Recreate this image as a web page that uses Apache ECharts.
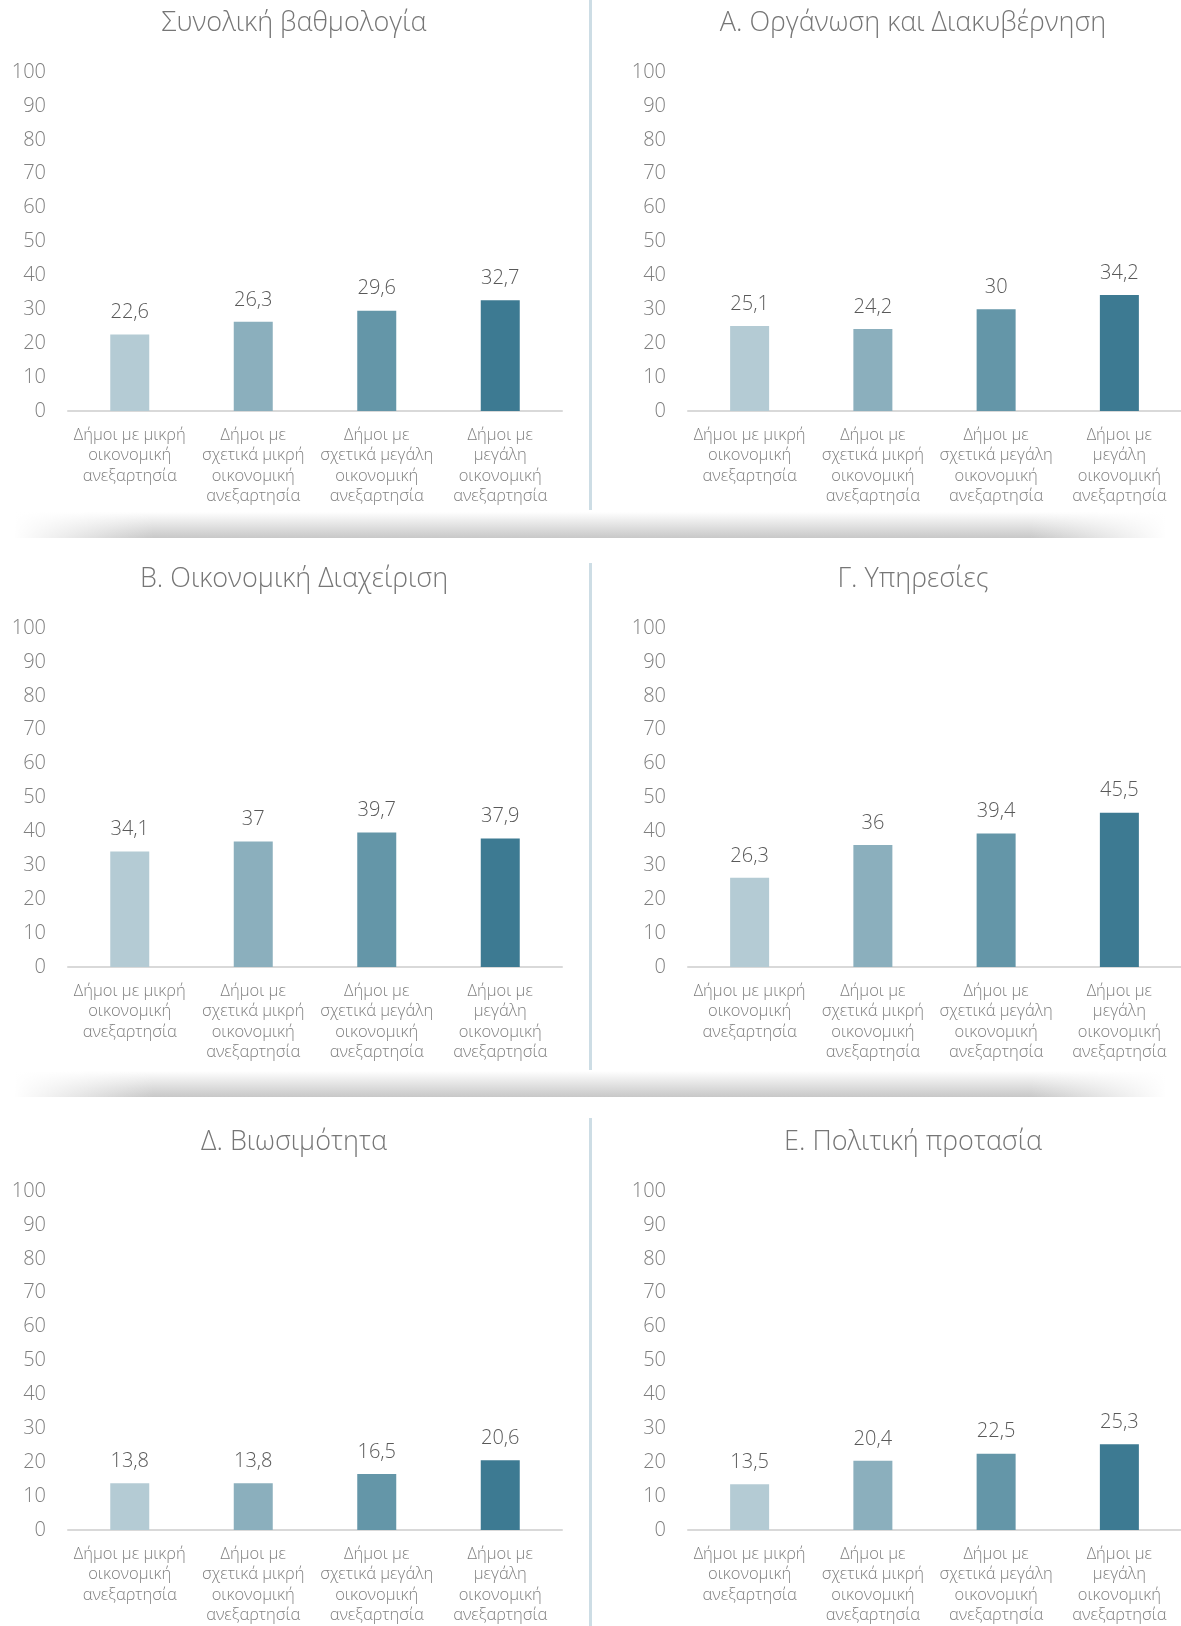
<!DOCTYPE html>
<html>
<head>
<meta charset="utf-8">
<script src="https://cdn.jsdelivr.net/npm/echarts@6/dist/echarts.min.js"></script>
<style>
html,body{margin:0;padding:0;background:#fff;}
#chart{width:1181px;height:1626px;}
</style>
</head>
<body>
<div id="chart"></div>
<script>
// ---- data ----
const categories = [
  'Δήμοι με μικρή\nοικονομική\nανεξαρτησία',
  'Δήμοι με\nσχετικά μικρή\nοικονομική\nανεξαρτησία',
  'Δήμοι με\nσχετικά μεγάλη\nοικονομική\nανεξαρτησία',
  'Δήμοι με\nμεγάλη\nοικονομική\nανεξαρτησία'
];
const panelTitles = [
  'Συνολική βαθμολογία',
  'Α. Οργάνωση και Διακυβέρνηση',
  'Β. Οικονομική Διαχείριση',
  'Γ. Υπηρεσίες',
  'Δ. Βιωσιμότητα',
  'Ε. Πολιτική προτασία'
];
const totalScore   = [22.6, 26.3, 29.6, 32.7];
const governance   = [25.1, 24.2, 30, 34.2];
const finance      = [34.1, 37, 39.7, 37.9];
const services     = [26.3, 36, 39.4, 45.5];
const viability    = [13.8, 13.8, 16.5, 20.6];
const policy       = [13.5, 20.4, 22.5, 25.3];
const panelValues = [totalScore, governance, finance, services, viability, policy];
const yMin = 0, yMax = 100, yStep = 10;

// ---- style / layout ----
const barColors = ['#b4cbd4', '#8bafbd', '#6496a8', '#3d7a92'];
const FONT = "'Open Sans', 'Noto Sans', sans-serif";
const rowOffsets = [0, 556, 1119];
const colLeft = [68, 688];
const gridWidth = 494;
const gridTop = 72, gridHeight = 339;
const titleX = [294, 913];
const dividerSegs = [[0, 510], [563, 1070], [1118, 1626]];
const shadowBottoms = [538, 1097];

const grids = [], xAxes = [], yAxes = [], series = [], graphics = [];

panelValues.forEach((vals, i) => {
  const r = Math.floor(i / 2), c = i % 2;
  const o = rowOffsets[r];
  grids.push({
    left: colLeft[c], top: gridTop + o, width: gridWidth, height: gridHeight,
    containLabel: false
  });
  xAxes.push({
    type: 'category', gridIndex: i, data: categories,
    axisLine: { show: true, lineStyle: { color: '#d9d9d9', width: 2 } },
    axisTick: { show: false },
    axisLabel: {
      interval: 0, color: '#7f7f7f', fontFamily: FONT, fontWeight: 300,
      fontSize: 16.5, lineHeight: 20.5, margin: 14
    }
  });
  yAxes.push({
    type: 'value', gridIndex: i, min: yMin, max: yMax, interval: yStep,
    axisLine: { show: false }, axisTick: { show: false },
    splitLine: { show: false },
    axisLabel: { color: '#7f7f7f', fontFamily: FONT, fontWeight: 300, fontSize: 20, margin: 22 }
  });
  series.push({
    type: 'bar', xAxisIndex: i, yAxisIndex: i, barWidth: 39,
    data: vals.map((v, k) => ({ value: v, itemStyle: { color: barColors[k] } })),
    label: {
      show: true, position: 'top', distance: 12,
      color: '#595959', fontFamily: FONT, fontWeight: 300, fontSize: 20,
      formatter: p => String(p.value).replace('.', ',')
    },
    silent: true, animation: false
  });
  graphics.push({
    type: 'text', z: 10,
    style: {
      text: panelTitles[i], x: titleX[c], y: 23 + o,
      align: 'center', verticalAlign: 'middle',
      fill: '#767676', font: '300 27px ' + FONT
    }
  });
});

// vertical dividers
dividerSegs.forEach(seg => {
  graphics.push({
    type: 'rect', z: 1,
    shape: { x: 589, y: seg[0], width: 3, height: seg[1] - seg[0] },
    style: { fill: '#cddde5' }
  });
});

// horizontal shadow bands
shadowBottoms.forEach(b => {
  graphics.push({
    type: 'rect', z: 0,
    shape: { x: 15, y: b - 26, width: 1150, height: 26 },
    style: {
      fill: new echarts.graphic.LinearGradient(0, 0, 0, 1, [
        { offset: 0, color: 'rgba(110,110,110,0)' },
        { offset: 1, color: 'rgba(110,110,110,0.38)' }
      ])
    }
  });
  graphics.push({
    type: 'rect', z: 0,
    shape: { x: 14, y: b - 27, width: 140, height: 28 },
    style: {
      fill: new echarts.graphic.LinearGradient(0, 0, 1, 0, [
        { offset: 0, color: 'rgba(255,255,255,1)' },
        { offset: 1, color: 'rgba(255,255,255,0)' }
      ])
    }
  });
  graphics.push({
    type: 'rect', z: 0,
    shape: { x: 1030, y: b - 27, width: 136, height: 28 },
    style: {
      fill: new echarts.graphic.LinearGradient(0, 0, 1, 0, [
        { offset: 0, color: 'rgba(255,255,255,0)' },
        { offset: 1, color: 'rgba(255,255,255,1)' }
      ])
    }
  });
});

const chart = echarts.init(document.getElementById('chart'), null, { renderer: 'canvas' });
chart.setOption({
  backgroundColor: '#ffffff',
  animation: false,
  grid: grids,
  xAxis: xAxes,
  yAxis: yAxes,
  series: series,
  graphic: graphics
});
</script>
</body>
</html>
